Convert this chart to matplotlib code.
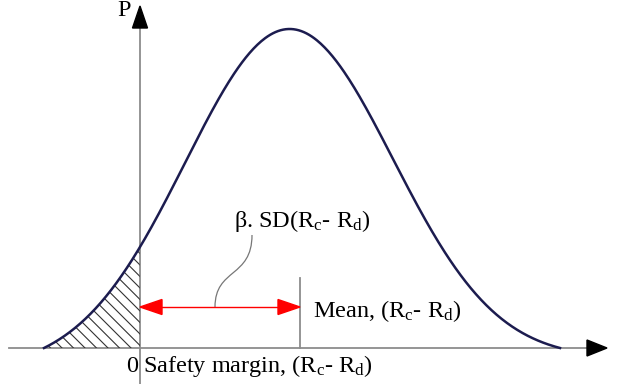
import matplotlib
matplotlib.use("Agg")
import matplotlib.pyplot as plt
import numpy as np
from matplotlib.path import Path
from matplotlib.patches import PathPatch, Polygon

plt.rcParams['font.family'] = ['Liberation Serif', 'DejaVu Serif']
plt.rcParams['mathtext.fontset'] = 'custom'
plt.rcParams['mathtext.rm'] = 'Liberation Serif'
plt.rcParams['mathtext.it'] = 'Liberation Serif:italic'

# distribution of the safety margin (drawing units, 0 = failure limit)
curve_mu = 149
curve_sd = 104
curve_peak = 319
curve_start = -96
curve_end = 420
mean_value = 160        # position of the mean marker
beta_sd = 160           # beta * SD, from 0 to the mean

labels = {
    'p': 'P',
    'zero': '0',
    'x': r'Safety margin, (R$_\mathrm{c}$- R$_\mathrm{d}$)',
    'mean': r'Mean, (R$_\mathrm{c}$- R$_\mathrm{d}$)',
    'beta': r'$\mathrm{\beta}$. SD(R$_\mathrm{c}$- R$_\mathrm{d}$)',
}

fig = plt.figure(figsize=(6.25, 3.84), dpi=100)
ax = fig.add_axes([0, 0, 1, 1])
ax.set_xlim(-140, 485)
ax.set_ylim(-36, 348)
ax.axis('off')

# bell curve: gaussian with a straight baseline removed so it meets the axis
x = np.linspace(curve_start, curve_end, 400)
g = np.exp(-(x - curve_mu) ** 2 / (2 * curve_sd ** 2))
g0, g1 = g[0], g[-1]
base = g0 + (g1 - g0) * (x - curve_start) / (curve_end - curve_start)
y = g - base
y = y / y.max() * curve_peak
ax.plot(x, y, color='#1c1c4f', lw=1.8, zorder=4)

# hatched failure region (x < 0)
m = x <= 0
verts = np.vstack([np.column_stack([x[m], y[m]]), [[0, 0], [curve_start, 0]]])
poly = Polygon(verts, closed=True, facecolor='none', edgecolor='none')
ax.add_patch(poly)
step = 11.5
for k in np.arange(-400, 200, step):
    hx = np.array([k - 200, k + 200])
    hy = -(hx - k)
    ln, = ax.plot(hx, hy, color='#333333', lw=0.8, zorder=3)
    ln.set_clip_path(poly)

# axes with arrowheads
gray = '#8c8c8c'
ax.plot([-131, 450], [0, 0], color=gray, lw=1.3, zorder=2)
ax.plot([0, 0], [-40, 322], color=gray, lw=1.3, zorder=2)
ax.add_patch(Polygon([[447, 8], [467, 0], [447, -8]], closed=True, color='black', zorder=5))
ax.add_patch(Polygon([[-7.5, 320], [0, 342], [7.5, 320]], closed=True, color='black', zorder=5))

# mean marker
ax.plot([mean_value, mean_value], [0, 70], color=gray, lw=1.3, zorder=2)

# beta * SD arrow
ay = 41
hl, hw = 22, 7.5
ax.plot([hl, beta_sd - hl], [ay, ay], color='red', lw=1.0, zorder=5)
ax.add_patch(Polygon([[0, ay], [hl, ay + hw], [hl, ay - hw]], closed=True, color='red', zorder=5))
ax.add_patch(Polygon([[beta_sd, ay], [beta_sd - hl, ay + hw], [beta_sd - hl, ay - hw]],
                     closed=True, color='red', zorder=5))

# leader line to the label
lead = Path([(75, ay), (75, 80), (112, 70), (112, 113)],
            [Path.MOVETO, Path.CURVE4, Path.CURVE4, Path.CURVE4])
ax.add_patch(PathPatch(lead, facecolor='none', edgecolor='#777777', lw=0.9, zorder=4))

fs = 17.5
ax.text(162, 121, labels['beta'], fontsize=fs, ha='center', va='baseline')
ax.text(173, 31, labels['mean'], fontsize=fs, ha='left', va='baseline')
ax.text(-2, -24, labels['zero'], fontsize=fs, ha='right', va='baseline')
ax.text(3, -24, labels['x'], fontsize=fs, ha='left', va='baseline')
ax.text(-9, 332, labels['p'], fontsize=fs, ha='right', va='baseline')

fig.savefig('out.png', dpi=100)
